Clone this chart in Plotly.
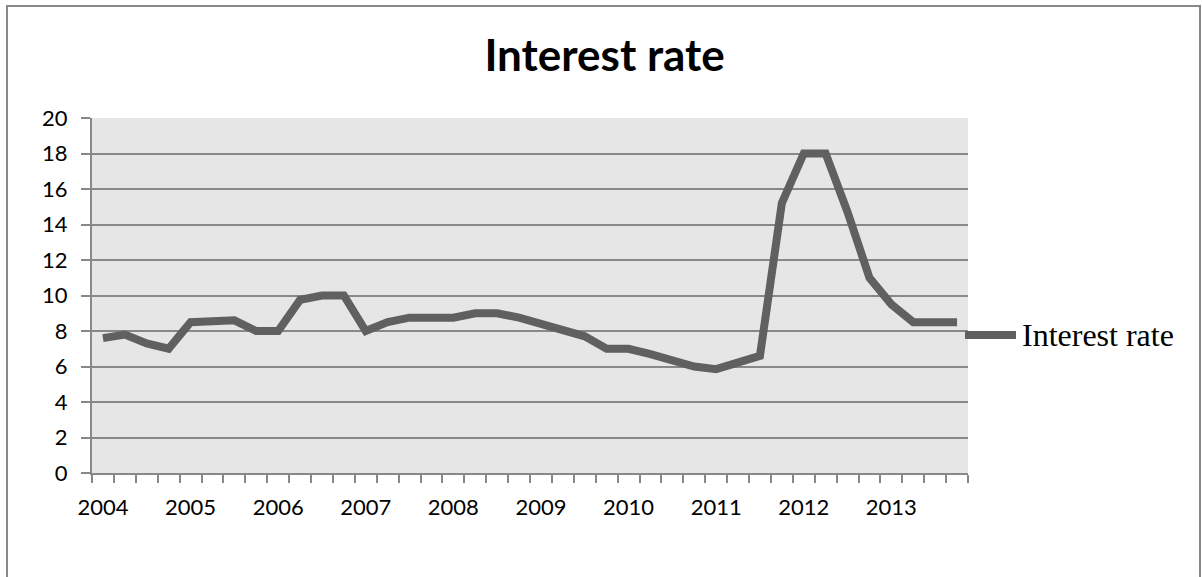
import plotly.graph_objects as go

# ---- data ----
years = ["2004", "2005", "2006", "2007", "2008", "2009", "2010", "2011", "2012", "2013"]
quarters = [f"{y} Q{q}" for y in years for q in (1, 2, 3, 4)]
interest_rate = [
    7.6, 7.8, 7.3, 7.0,      # 2004
    8.5, 8.6, 8.6, 8.0,      # 2005
    8.0, 9.75, 10.0, 10.0,   # 2006
    8.0, 8.5, 8.75, 8.75,    # 2007
    8.75, 9.0, 9.0, 8.75,    # 2008
    8.4, 8.0, 7.7, 7.0,      # 2009
    7.0, 6.7, 6.3, 6.0,      # 2010
    5.85, 6.25, 6.6, 15.2,   # 2011
    18.0, 18.0, 14.7, 11.0,  # 2012
    9.5, 8.5, 8.5, 8.5,      # 2013
]
y_ticks = [0, 2, 4, 6, 8, 10, 12, 14, 16, 18, 20]

x_idx = list(range(len(quarters)))
year_pos = [x_idx[i] for i in range(0, len(quarters), 4)]
boundaries = [i - 0.5 for i in range(len(quarters) + 1)]

LINE = "#606060"
GRID = "#888888"

fig = go.Figure()
fig.add_trace(go.Scatter(
    x=x_idx, y=interest_rate, mode="lines", name="Interest rate",
    line=dict(color=LINE, width=8), customdata=quarters,
    hovertemplate="%{customdata}: %{y}<extra></extra>",
    showlegend=False,
))

W, H = 1202, 577
L, R, T, B = 92, 234, 118, 104
pw, ph = W - L - R, H - T - B

def px_x(p):
    return (p - L) / pw

def px_y(p):
    return (H - B - p) / ph

fig.update_layout(
    width=W, height=H,
    margin=dict(l=L, r=R, t=T, b=B, pad=0),
    paper_bgcolor="white",
    plot_bgcolor="#e6e6e6",
    title=dict(text="<b>Interest rate</b>", x=0.503, xanchor="center",
               y=1 - 56 / H, yanchor="middle", yref="container",
               font=dict(family="Lato", size=44, color="black")),
    xaxis=dict(
        range=[-0.5, len(quarters) - 0.5], showgrid=False, zeroline=False,
        showline=True, linecolor=GRID, linewidth=2,
        tickmode="array", tickvals=year_pos, ticktext=years, ticks="",
        tickfont=dict(family="Lato", size=22, color="black"),
        ticklabelstandoff=14,
        minor=dict(tickmode="array", tickvals=boundaries, ticks="outside",
                   ticklen=8, tickcolor=GRID, tickwidth=2, showgrid=False),
    ),
    yaxis=dict(
        range=[0, 20], tickmode="array", tickvals=y_ticks,
        showgrid=True, gridcolor=GRID, gridwidth=2, zeroline=False,
        showline=True, linecolor=GRID, linewidth=2,
        ticks="outside", ticklen=9, tickcolor=GRID, tickwidth=2,
        tickfont=dict(family="Lato", size=22, color="black"),
        ticklabelstandoff=9,
    ),
    shapes=[
        dict(type="rect", xref="paper", yref="paper",
             x0=px_x(7), x1=px_x(1200), y0=px_y(620), y1=px_y(6),
             line=dict(color="#888888", width=2), fillcolor="rgba(0,0,0,0)"),
        dict(type="line", xref="paper", yref="paper",
             x0=px_x(965), x1=px_x(1016), y0=px_y(335), y1=px_y(335),
             line=dict(color=LINE, width=8)),
    ],
    annotations=[
        dict(text="Interest rate", xref="paper", yref="paper",
             x=px_x(1020), y=px_y(335), xanchor="left", yanchor="middle",
             showarrow=False,
             font=dict(family="Liberation Serif", size=32, color="black")),
    ],
)

fig.write_html("out.html")
